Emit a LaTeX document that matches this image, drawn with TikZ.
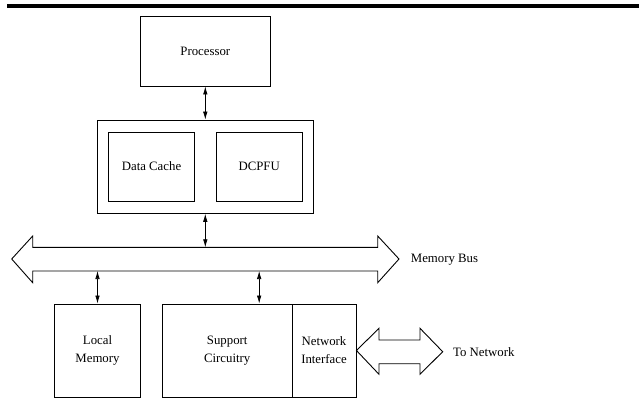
\documentclass[tikz,border=0pt]{standalone}
\usepackage{fontspec}
\setmainfont{Liberation Serif}
\usetikzlibrary{arrows.meta,calc}
\begin{document}
\begin{tikzpicture}[
  x=1pt, y=-1pt,
  box/.style={draw, line width=0.9pt, inner sep=0pt, align=center,
    font=\fontsize{12.8pt}{18pt}\selectfont},
  link/.style={line width=0.7pt, {Latex[length=8pt,width=4.5pt]}-{Latex[length=8pt,width=4.5pt]}},
  fatarrow/.style={draw, line width=0.9pt, line join=miter},
  tag/.style={anchor=west, inner sep=0pt, font=\fontsize{12.8pt}{15pt}\selectfont}
]
  \useasboundingbox (0,0) rectangle (639,398);

  % rule at the top
  \draw[line width=3.5pt] (7,6) -- (639,6);

  % processor
  \node[box, minimum width=129.3pt, minimum height=70pt] (proc) at (205.3,51) {Processor};

  % cache module with its two parts
  \node[box, minimum width=216pt, minimum height=93.3pt] (cache) at (205.3,166.7) {};
  \node[box, minimum width=86.4pt, minimum height=69pt] (dc) at (151.5,166.5) {Data Cache};
  \node[box, minimum width=86.3pt, minimum height=69pt] (pfu) at (259.2,166.5) {DCPFU};

  % memory bus
  \coordinate (bustop) at (205.3,247.3);
  \coordinate (busbot) at (205.3,271);
  \draw[fatarrow] (11.7,259) -- (32.7,236) -- (32.7,247.3) -- (377.7,247.3) -- (377.7,236)
    -- (399,259) -- (377.7,282.7) -- (377.7,271) -- (32.7,271) -- (32.7,282.7) -- cycle;
  \node[tag] (bus) at (410.7,260) {Memory Bus};

  % lower boxes
  \node[box, minimum width=86.4pt, minimum height=93pt] (lmem) at (97.5,350.5) {Local\\Memory};
  \node[box, minimum width=129.7pt, minimum height=93pt] (supp) at (227.2,350.5) {Support\\Circuitry};
  \node[box, minimum width=64pt, minimum height=93pt] (netif) at (324,350.5) {Network\\Interface};
  \coordinate (boardtop) at ($(supp.north west)!0.5!(netif.north east)$);

  % network link
  \draw[fatarrow] (netif.east) -- (379,328.3) -- (379,340) -- (420,340) -- (420,328.3)
    -- (442.7,351.7) -- (420,374.3) -- (420,363.7) -- (379,363.7) -- (379,374.3) -- cycle;
  \node[tag] (net) at (453,351.7) {To Network};

  % connections
  \draw[link] (proc.south) -- (cache.north);
  \draw[link] (cache.south) -- (bustop);
  \draw[link] (lmem.north |- busbot) -- (lmem.north);
  \draw[link] (boardtop |- busbot) -- (boardtop);
\end{tikzpicture}
\end{document}
